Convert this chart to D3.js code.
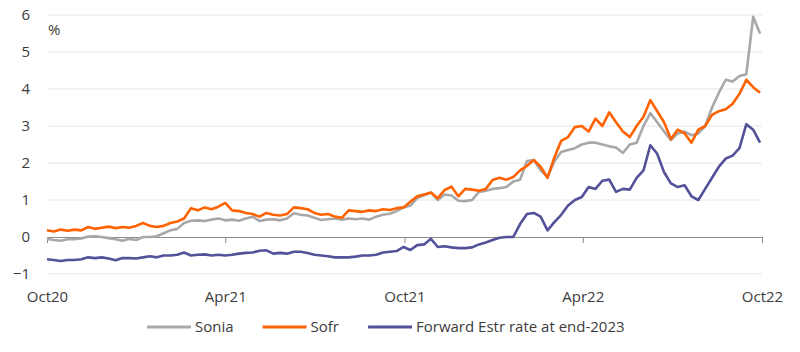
<!DOCTYPE html>
<html>
<head>
<meta charset="utf-8">
<script src="https://cdn.jsdelivr.net/npm/d3@7"></script>
<style>
  body { margin: 0; background: #fff; }
  #chart { width: 800px; height: 352px; }
  text { font-family: "Open Sans", "Noto Sans", sans-serif; fill: #3c3c3c; }
</style>
</head>
<body>
<div id="chart"></div>
<script>
// weekly observations starting 1 Oct 2020
var startDate = new Date(2020, 9, 1)

var sonia = [-0.05, -0.08, -0.1, -0.06, -0.06, -0.04, 0.01, 0.02, 0.0, -0.03,
  -0.06, -0.1, -0.05, -0.08, 0.0, 0.0, 0.02, 0.1, 0.18, 0.22,
  0.38, 0.44, 0.45, 0.43, 0.47, 0.5, 0.45, 0.47, 0.44, 0.5,
  0.55, 0.43, 0.47, 0.48, 0.45, 0.5, 0.64, 0.6, 0.58, 0.52,
  0.46, 0.48, 0.5, 0.47, 0.5, 0.48, 0.5, 0.47, 0.55, 0.6,
  0.63, 0.7, 0.8, 0.85, 1.05, 1.13, 1.2, 1.0, 1.15, 1.12,
  0.98, 0.97, 1.0, 1.22, 1.25, 1.3, 1.32, 1.35, 1.5, 1.55,
  2.05, 2.08, 1.8, 1.62, 2.05, 2.3, 2.35, 2.4, 2.5, 2.55,
  2.55, 2.5, 2.45, 2.42, 2.27, 2.5, 2.55, 3.0, 3.35, 3.1,
  2.85, 2.62, 2.8, 2.85, 2.75, 2.8, 3.0, 3.5, 3.9, 4.25,
  4.2, 4.35, 4.4, 5.95, 5.5]

var sofr = [0.18, 0.15, 0.2, 0.17, 0.2, 0.18, 0.27, 0.22, 0.25, 0.28,
  0.24, 0.27, 0.25, 0.3, 0.38, 0.3, 0.27, 0.3, 0.38, 0.42,
  0.5, 0.78, 0.72, 0.8, 0.75, 0.82, 0.92, 0.72, 0.7, 0.65,
  0.62, 0.55, 0.65, 0.6, 0.58, 0.62, 0.8, 0.78, 0.75, 0.65,
  0.6, 0.62, 0.55, 0.52, 0.72, 0.7, 0.68, 0.72, 0.7, 0.75,
  0.73, 0.78, 0.8, 0.95, 1.1, 1.15, 1.2, 1.05, 1.27, 1.36,
  1.1, 1.3, 1.28, 1.25, 1.3, 1.54, 1.6, 1.55, 1.62, 1.8,
  1.92, 2.08, 1.9, 1.6, 2.15, 2.6, 2.7, 2.97, 3.0, 2.85,
  3.2, 3.0, 3.37, 3.1, 2.85, 2.7, 3.0, 3.25, 3.7, 3.4,
  3.1, 2.65, 2.9, 2.8, 2.55, 2.9, 3.0, 3.3, 3.4, 3.45,
  3.6, 3.87, 4.25, 4.05, 3.9]

var estr = [-0.6, -0.62, -0.65, -0.62, -0.62, -0.6, -0.55, -0.57, -0.55, -0.58,
  -0.63, -0.57, -0.57, -0.58, -0.55, -0.52, -0.55, -0.5, -0.5, -0.48,
  -0.42, -0.5, -0.48, -0.47, -0.5, -0.48, -0.5, -0.48, -0.45, -0.43,
  -0.42, -0.37, -0.36, -0.45, -0.43, -0.45, -0.4, -0.4, -0.43, -0.48,
  -0.5, -0.52, -0.55, -0.55, -0.55, -0.53, -0.5, -0.5, -0.48, -0.42,
  -0.4, -0.38, -0.27, -0.35, -0.22, -0.2, -0.05, -0.27, -0.25, -0.28,
  -0.3, -0.3, -0.28, -0.2, -0.15, -0.08, -0.02, 0.0, 0.0, 0.35,
  0.62, 0.65, 0.55, 0.18, 0.4, 0.6, 0.85, 1.0, 1.08, 1.35,
  1.3, 1.52, 1.55, 1.22, 1.3, 1.28, 1.6, 1.8, 2.48, 2.25,
  1.75, 1.45, 1.35, 1.4, 1.1, 1.0, 1.3, 1.6, 1.9, 2.12,
  2.2, 2.4, 3.05, 2.9, 2.55]

var yTicks = [-1, 0, 1, 2, 3, 4, 5, 6]
var xTickDates = [new Date(2020, 9, 1), new Date(2021, 3, 1), new Date(2021, 9, 1),
  new Date(2022, 3, 1), new Date(2022, 9, 1)]
var seriesNames = ["Sonia", "Sofr", "Forward Estr rate at end-2023"]
var seriesColours = ["#a8a8a8", "#ff6200", "#525199"]

var dimensions = {
  width: 800,
  height: 352,
  margin: { top: 15, right: 38, bottom: 78, left: 47 }
}
dimensions.boundedWidth = dimensions.width - dimensions.margin.left - dimensions.margin.right
dimensions.boundedHeight = dimensions.height - dimensions.margin.top - dimensions.margin.bottom

var dates = sonia.map((d, i) => d3.timeDay.offset(startDate, i * 7))
var series = [sonia, sofr, estr].map((vals, k) => ({
  name: seriesNames[k],
  colour: seriesColours[k],
  values: vals.map((v, i) => ({ date: dates[i], value: v }))
}))

var wrapper = d3.select("#chart")
  .append("svg")
  .attr("width", dimensions.width)
  .attr("height", dimensions.height)

var bounds = wrapper.append("g")
  .attr("transform", `translate(${dimensions.margin.left},${dimensions.margin.top})`)

var xScale = d3.scaleTime()
  .domain([new Date(2020, 9, 1), new Date(2022, 9, 1)])
  .range([0, dimensions.boundedWidth])

var yScale = d3.scaleLinear()
  .domain([-1, 6])
  .range([dimensions.boundedHeight, 0])

// gridlines
bounds.append("g")
  .selectAll("line")
  .data(yTicks.filter(d => d != 0))
  .enter().append("line")
  .attr("x1", 0)
  .attr("x2", dimensions.boundedWidth)
  .attr("y1", d => yScale(d))
  .attr("y2", d => yScale(d))
  .attr("stroke", "#e6e6e6")
  .attr("stroke-width", 1)

// y labels
var yAxisGenerator = d3.axisLeft(yScale)
  .tickValues(yTicks)
  .tickSize(0)
  .tickPadding(17)
  .tickFormat(d3.format("d"))

var yAxis = bounds.append("g").call(yAxisGenerator)
yAxis.select(".domain").remove()
yAxis.selectAll("text")
  .style("font-size", "15px")
  .attr("fill", "#3c3c3c")

// zero line with date ticks
var xAxisGenerator = d3.axisBottom(xScale)
  .tickValues(xTickDates)
  .tickSizeInner(6)
  .tickSizeOuter(0)
  .tickFormat(d3.timeFormat("%b%y"))

var xAxis = bounds.append("g")
  .attr("transform", `translate(0,${yScale(0)})`)
  .call(xAxisGenerator)
xAxis.select(".domain").attr("stroke", "#8c8c8c")
xAxis.selectAll(".tick line").attr("stroke", "#8c8c8c")
xAxis.selectAll(".tick text")
  .attr("y", dimensions.boundedHeight - yScale(0) + 17)
  .style("font-size", "15px")
  .attr("fill", "#3c3c3c")

bounds.append("text")
  .attr("x", 1)
  .attr("y", 20)
  .style("font-size", "15px")
  .text("%")

// lines
var lineGenerator = d3.line()
  .x(d => xScale(d.date))
  .y(d => yScale(d.value))

bounds.selectAll(".series")
  .data(series)
  .enter().append("path")
  .attr("class", "series")
  .attr("d", d => lineGenerator(d.values))
  .attr("fill", "none")
  .attr("stroke", d => d.colour)
  .attr("stroke-width", 2.6)
  .attr("stroke-linejoin", "round")

// legend
var legend = wrapper.append("g")
  .attr("transform", "translate(0,327)")

var item = legend.selectAll(".item")
  .data(series)
  .enter().append("g")
  .attr("class", "item")

item.append("line")
  .attr("x1", 0).attr("x2", 44)
  .attr("y1", 0).attr("y2", 0)
  .attr("stroke", d => d.colour)
  .attr("stroke-width", 3)

item.append("text")
  .attr("x", 48)
  .attr("y", 5)
  .style("font-size", "15px")
  .text(d => d.name)

// items packed left to right from x=147
var offset = 147
item.attr("transform", function(d) {
  var x = offset
  offset += 48 + d3.select(this).select("text").node().getComputedTextLength() + 29
  return `translate(${x},0)`
})
</script>
</body>
</html>
